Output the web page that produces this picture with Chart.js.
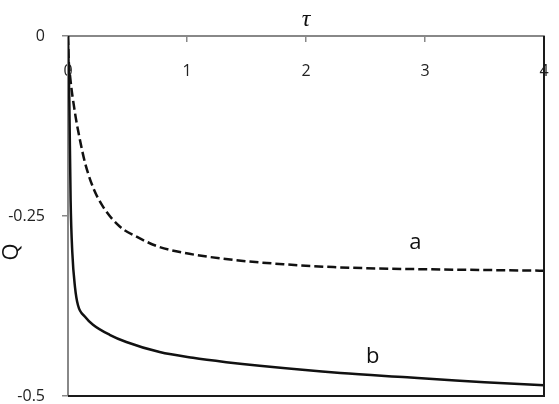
<!DOCTYPE html>
<html>
<head>
<meta charset="utf-8">
<script src="https://cdn.jsdelivr.net/npm/chart.js@4.4.1/dist/chart.umd.min.js"></script>
<style>
  body { margin: 0; background: #fff; }
  canvas { display: block; }
</style>
</head>
<body>
<canvas id="grafico" width="559" height="404"></canvas>
<script>
// Curva a (discontinua)
const tauA = [0, 0.005, 0.017, 0.059, 0.1, 0.143, 0.21, 0.294, 0.437, 0.58, 0.75, 0.97, 1.39, 1.81, 2.23, 2.51, 3.0, 3.5, 4.0];
const qA   = [0, -0.03, -0.055, -0.107, -0.144, -0.176, -0.21, -0.237, -0.265, -0.279, -0.292, -0.301, -0.311, -0.317, -0.321, -0.3225, -0.324, -0.325, -0.326];

// Curva b (continua)
const tauB = [0, 0.011, 0.022, 0.036, 0.059, 0.084, 0.143, 0.21, 0.35, 0.49, 0.77, 1.05, 1.33, 1.61, 2.29, 2.85, 3.13, 3.5, 4.0];
const qB   = [0, -0.089, -0.228, -0.3, -0.349, -0.374, -0.39, -0.401, -0.415, -0.425, -0.439, -0.447, -0.453, -0.458, -0.468, -0.474, -0.477, -0.481, -0.485];

// Marcas de los ejes
const ticksX = [0, 1, 2, 3, 4];
const ticksY = [0, -0.25, -0.5];

// Etiquetas de las curvas (posición en unidades de datos)
const etiquetas = [
    { texto: "a", tau: 2.92, q: -0.2875 },
    { texto: "b", tau: 2.56, q: -0.446 }
];

const puntos = (xs, ys) => xs.map((x, i) => ({ x: x, y: ys[i] }));

// Plugin: bordes derecho/inferior, Q y etiquetas a/b
const extras = {
    id: "extras",
    afterDatasetsDraw(chart) {
        const { ctx, chartArea, scales } = chart;
        ctx.save();
        ctx.strokeStyle = "#1a1a1a";
        ctx.lineWidth = 2;
        ctx.beginPath();
        ctx.moveTo(chartArea.right, chartArea.top);
        ctx.lineTo(chartArea.right, chartArea.bottom);
        ctx.lineTo(chartArea.left, chartArea.bottom);
        ctx.stroke();

        ctx.fillStyle = "#111";
        ctx.font = "22px 'Open Sans'";
        ctx.textAlign = "center";
        ctx.textBaseline = "middle";
        etiquetas.forEach(e => {
            ctx.fillText(e.texto, scales.x.getPixelForValue(e.tau), scales.y.getPixelForValue(e.q));
        });

        // Título del eje Y
        ctx.translate(12, scales.y.getPixelForValue(-0.3));
        ctx.rotate(-Math.PI / 2);
        ctx.fillText("Q", 0, 0);
        ctx.restore();
    }
};

const ctx = document.getElementById("grafico").getContext("2d");
new Chart(ctx, {
    type: "scatter",
    data: {
        datasets: [
            {
                label: "a",
                data: puntos(tauA, qA),
                showLine: true,
                borderColor: "#111",
                borderWidth: 2.5,
                borderDash: [9, 4],
                pointRadius: 0,
                cubicInterpolationMode: "monotone"
            },
            {
                label: "b",
                data: puntos(tauB, qB),
                showLine: true,
                borderColor: "#111",
                borderWidth: 2.5,
                pointRadius: 0,
                cubicInterpolationMode: "monotone"
            }
        ]
    },
    options: {
        responsive: false,
        animation: false,
        devicePixelRatio: 1,
        layout: { padding: { left: 0, top: 0, right: 15, bottom: 8 } },
        plugins: { legend: { display: false }, tooltip: { enabled: false } },
        scales: {
            x: {
                type: "linear",
                position: "top",
                min: 0,
                max: 4,
                afterBuildTicks: s => { s.ticks = ticksX.map(v => ({ value: v })); },
                afterFit: s => { s.height = 36; s.paddingLeft = 0; s.paddingRight = 0; },
                grid: { drawOnChartArea: false, tickLength: -6, color: "#888", lineWidth: 1.5 },
                border: { color: "#888", width: 2 },
                ticks: {
                    mirror: true,
                    padding: 26,
                    color: "#222",
                    font: { family: "'Open Sans'", size: 16 },
                    callback: v => String(v)
                },
                title: {
                    display: true,
                    text: "τ",
                    color: "#111",
                    padding: { top: 5, bottom: 0 },
                    font: { family: "'Liberation Serif'", size: 24, style: "italic" }
                }
            },
            y: {
                type: "linear",
                min: -0.5,
                max: 0,
                afterBuildTicks: s => { s.ticks = ticksY.map(v => ({ value: v })); },
                afterFit: s => { s.width = 68; s.paddingTop = 0; s.paddingBottom = 0; },
                grid: { drawOnChartArea: false, tickLength: 6, color: "#888", lineWidth: 1.5 },
                border: { color: "#888", width: 2 },
                ticks: {
                    padding: 17,
                    color: "#222",
                    font: { family: "'Open Sans'", size: 16 },
                    callback: v => String(v)
                }
            }
        }
    },
    plugins: [extras]
});
</script>
</body>
</html>
